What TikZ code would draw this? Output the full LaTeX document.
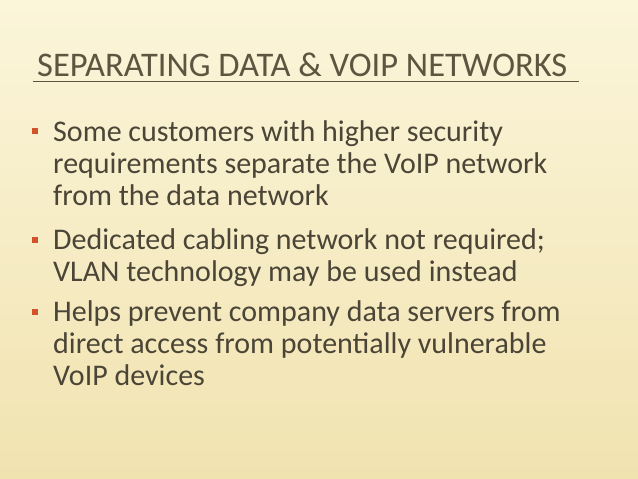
\documentclass[tikz,border=0pt]{standalone}
\usepackage{fontspec}
\setmainfont{Carlito}
\definecolor{bgA}{HTML}{FBF5DA}
\definecolor{bgB}{HTML}{F1E3B0}
\definecolor{titlec}{HTML}{5E5440}
\definecolor{bodyc}{HTML}{4A4536}
\definecolor{bulc}{HTML}{D2532A}
\begin{document}
\begin{tikzpicture}[x=1pt,y=-1pt,
  body/.style={anchor=base west,inner sep=0pt,font=\fontsize{30}{30}\selectfont,text=bodyc},
  bul/.style={fill=bulc,minimum size=6pt,inner sep=0pt}]
\useasboundingbox (0,0) rectangle (638,479);
\shade[top color=bgA,bottom color=bgB] (0,0) rectangle (638,479);
\node[anchor=base west,inner sep=0pt,font=\fontsize{34.5}{34.5}\selectfont,text=titlec] (title) at (37,76) {SEPARATING DATA \& VOIP NETWORKS};
\draw[titlec,line width=1pt] (33,81) -- (579,81);
\node[bul] (b1) at (35,131) {};
\node[body] (l1) at (53,141) {Some customers with higher security};
\node[body] (l2) at (53,173) {requirements separate the VoIP network};
\node[body] (l3) at (53,205) {from the data network};
\node[bul] (b2) at (35,240) {};
\node[body] (l4) at (53,249) {Dedicated cabling network not required;};
\node[body] (l5) at (53,281) {VLAN technology may be used instead};
\node[bul] (b3) at (35,312) {};
\node[body] (l6) at (53,321) {Helps prevent company data servers from};
\node[body] (l7) at (53,353) {direct access from potentially vulnerable};
\node[body] (l8) at (53,385) {VoIP devices};
\end{tikzpicture}
\end{document}
